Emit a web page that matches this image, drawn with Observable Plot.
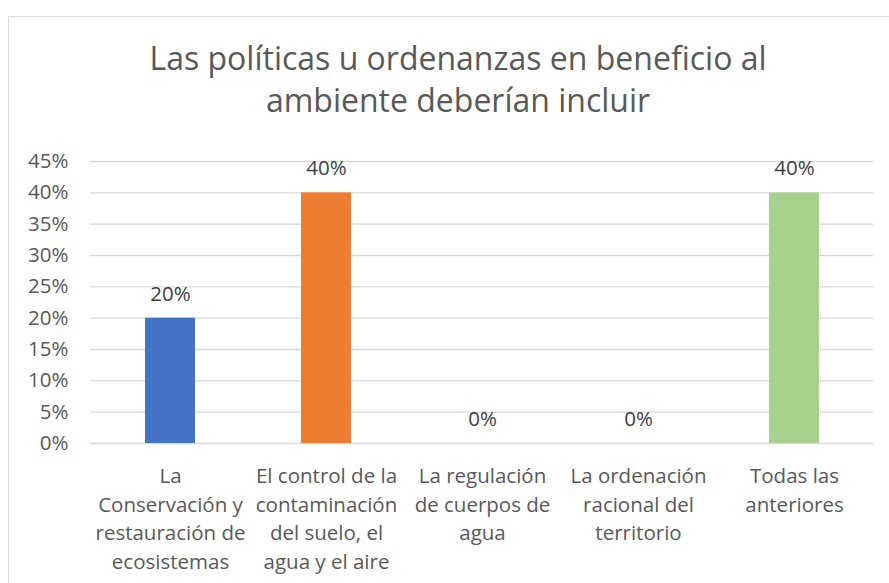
<!DOCTYPE html>
<html>
<head>
<meta charset="utf-8">
<script src="https://cdn.jsdelivr.net/npm/d3@7"></script>
<script src="https://cdn.jsdelivr.net/npm/@observablehq/plot@0.6"></script>
<style>
  html, body { margin: 0; padding: 0; background: #ffffff; overflow: hidden; }
  #wrap { position: relative; width: 889px; height: 583px; overflow: hidden; }
  #border { position: absolute; left: 8px; top: 16px; width: 1000px; height: 1000px; border: 1px solid #d9d9d9; box-sizing: border-box; }
  #chart { position: absolute; left: 0; top: 0; }
</style>
</head>
<body>
<div id="wrap"><div id="border"></div><div id="chart"></div></div>
<script>
const title = "Las políticas u ordenanzas en beneficio al\nambiente deberían incluir";
const categories = [
  "La Conservación y restauración de ecosistemas",
  "El control de la contaminación del suelo, el agua y el aire",
  "La regulación de cuerpos de agua",
  "La ordenación racional del territorio",
  "Todas las anteriores"
];
const categoryLabels = [
  "La\nConservación y\nrestauración de\necosistemas",
  "El control de la\ncontaminación\ndel suelo, el\nagua y el aire",
  "La regulación\nde cuerpos de\nagua",
  "La ordenación\nracional del\nterritorio",
  "Todas las\nanteriores"
];
const values = [0.20, 0.40, 0, 0, 0.40];
const barColors = ["#4472C4", "#ED7D31", "#A5A5A5", "#FFC000", "#A9D18E"];
const yTicks = [0, 0.05, 0.10, 0.15, 0.20, 0.25, 0.30, 0.35, 0.40, 0.45];

const data = categories.map((c, i) => ({category: c, label: categoryLabels[i], value: values[i], color: barColors[i]}));
const pct = d => Math.round(d * 100) + "%";
const font = "'Open Sans', Lato, sans-serif";
const textColor = "#595959";

const chart = Plot.plot({
  width: 889,
  height: 583,
  marginLeft: 90,
  marginRight: 16,
  marginTop: 161,
  marginBottom: 140,
  style: {fontFamily: font, background: "transparent", overflow: "visible"},
  x: {domain: categories, paddingInner: 0.68, paddingOuter: 0.34, axis: null, label: null},
  y: {domain: [0, 0.45], axis: null, label: null},
  color: {type: "identity"},
  marks: [
    Plot.gridY(yTicks, {stroke: "#d9d9d9", strokeOpacity: 1, strokeWidth: 1.3}),
    Plot.axisY(yTicks, {tickSize: 0, tickPadding: 22, tickFormat: pct, fontSize: 20.5, fill: textColor, label: null}),
    Plot.barY(data, {x: "category", y: "value", fill: "color"}),
    Plot.text(data, {x: "category", y: "value", text: d => pct(d.value), dy: -24, fontSize: 20.5, fill: "#404040"}),
    Plot.axisX({tickSize: 0, tickPadding: 19, tickFormat: c => categoryLabels[categories.indexOf(c)], fontSize: 20.5, lineHeight: 1.4, fill: textColor, label: null}),
    Plot.text([title], {frameAnchor: "top", lineAnchor: "top", dx: -24, dy: -121, fontSize: 32, lineHeight: 1.31, fill: textColor})
  ]
});
document.getElementById("chart").appendChild(chart);
</script>
</body>
</html>
